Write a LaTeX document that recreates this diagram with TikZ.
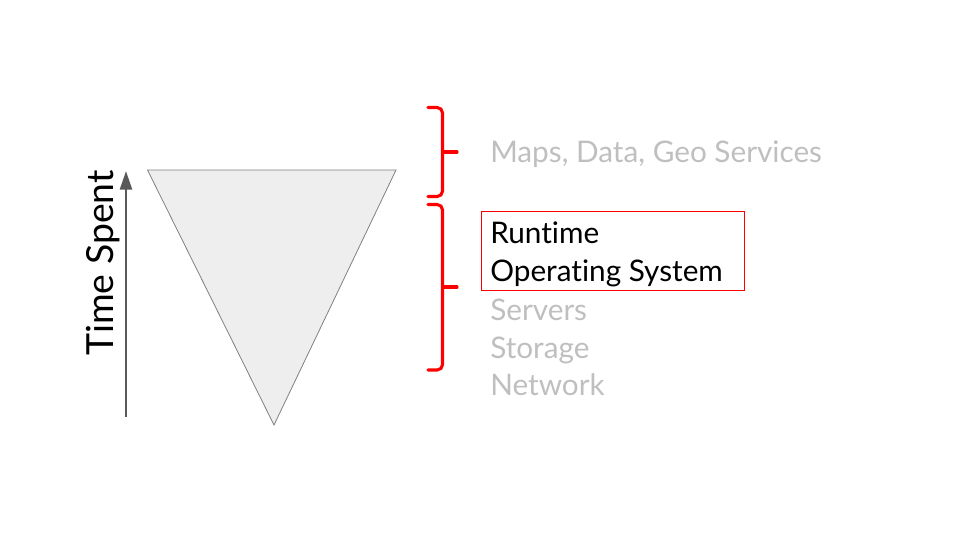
\documentclass[tikz,border=0pt]{standalone}
\usepackage{fontspec}
\setmainfont{Lato}[Ligatures=NoCommon]
\usetikzlibrary{arrows.meta}
\definecolor{txtgray}{RGB}{191,191,191}
\definecolor{arrgray}{RGB}{89,89,89}
\definecolor{trifill}{RGB}{238,238,238}
\definecolor{tristroke}{RGB}{128,128,128}
\begin{document}
\begin{tikzpicture}[x=0.75pt,y=-0.75pt,
  graytext/.style={anchor=base west,inner sep=0pt,text=txtgray,font=\fontsize{22.3}{26}\selectfont},
  blacktext/.style={anchor=base west,inner sep=0pt,text=black,font=\fontsize{22.3}{26}\selectfont},
  redbrace/.style={draw=red,line width=2.3pt,rounded corners=4pt,line cap=round},
  timearrow/.style={draw=arrgray,line width=1.9pt,-{Triangle[length=14pt,width=9pt]}}]
\useasboundingbox (0,0) rectangle (960,540);
% triangle
\coordinate (tl) at (147.5,170);
\coordinate (tr) at (396,170);
\coordinate (tb) at (274,425);
\filldraw[fill=trifill,draw=tristroke,line width=0.6pt] (tl) -- (tr) -- (tb) -- cycle;
% arrow
\coordinate (a0) at (126,417);
\coordinate (a1) at (126,171);
\draw[timearrow] (a0) -- (a1);
\node[rotate=90,anchor=base west,inner sep=0pt,font=\fontsize{28}{32}\selectfont] (ts) at (113,356) {Time Spent};
% braces
\coordinate (b1t) at (428,107.5);
\coordinate (b1b) at (428,196.5);
\coordinate (b1m) at (442.5,152);
\coordinate (b1p) at (457,152);
\draw[redbrace] (b1t) -| (b1m) |- (b1b);
\draw[redbrace] (b1m) -- (b1p);
\coordinate (b2t) at (428,204.5);
\coordinate (b2b) at (428,370);
\coordinate (b2m) at (442.5,287);
\coordinate (b2p) at (457,287);
\draw[redbrace] (b2t) -| (b2m) |- (b2b);
\draw[redbrace] (b2m) -- (b2p);
% box
\node[draw=red,line width=0.75pt,minimum width=263*0.75pt,minimum height=79*0.75pt,inner sep=0pt] (box) at (612.5,250.5) {};
% texts
\node[graytext] (maps) at (490,162.7) {Maps, Data, Geo Services};
\node[blacktext] (rt) at (490,243) {Runtime};
\node[blacktext] (os) at (490,281.7) {Operating System};
\node[graytext] (sv) at (490,320) {Servers};
\node[graytext] (st) at (490,358) {Storage};
\node[graytext] (nw) at (490,395) {Network};
\end{tikzpicture}
\end{document}
